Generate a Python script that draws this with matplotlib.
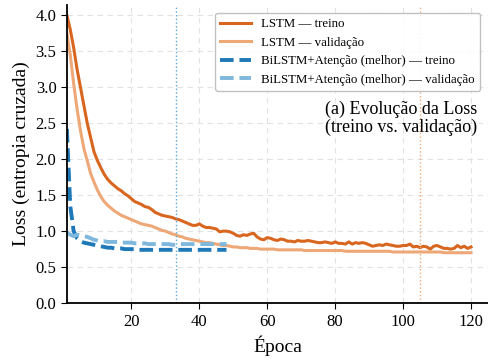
import numpy as np
import matplotlib
matplotlib.use("Agg")
import matplotlib.pyplot as plt

plt.rcParams["font.family"] = ["Liberation Serif", "DejaVu Serif"]

# LSTM (120 epocas)
lstm_train = [4.00, 3.80, 3.55, 3.25, 3.00, 2.75, 2.50, 2.30, 2.10, 1.98,
              1.88, 1.79, 1.72, 1.67, 1.63, 1.59, 1.56, 1.52, 1.49, 1.45,
              1.41, 1.39, 1.37, 1.34, 1.33, 1.30, 1.26, 1.24, 1.22, 1.21,
              1.20, 1.19, 1.17, 1.16, 1.14, 1.12, 1.10, 1.08, 1.08, 1.10,
              1.07, 1.05, 1.05, 1.04, 1.03, 0.99, 1.00, 1.00, 0.99, 0.97,
              0.94, 0.93, 0.95, 0.94, 0.96, 0.97, 0.92, 0.89, 0.88, 0.91,
              0.90, 0.88, 0.87, 0.89, 0.88, 0.86, 0.86, 0.85, 0.87, 0.86,
              0.86, 0.87, 0.86, 0.85, 0.84, 0.84, 0.85, 0.84, 0.83, 0.85,
              0.83, 0.83, 0.82, 0.85, 0.82, 0.84, 0.83, 0.84, 0.83, 0.81,
              0.79, 0.80, 0.81, 0.80, 0.82, 0.81, 0.80, 0.79, 0.79, 0.80,
              0.80, 0.82, 0.78, 0.79, 0.77, 0.79, 0.78, 0.75, 0.79, 0.80,
              0.78, 0.76, 0.76, 0.75, 0.76, 0.80, 0.77, 0.79, 0.76, 0.78]
lstm_val = [3.75, 3.45, 3.05, 2.70, 2.40, 2.15, 1.98, 1.80, 1.68, 1.57,
            1.48, 1.41, 1.36, 1.32, 1.28, 1.25, 1.22, 1.20, 1.18, 1.16,
            1.14, 1.12, 1.10, 1.09, 1.08, 1.07, 1.05, 1.03, 1.01, 1.00,
            0.98, 0.96, 0.95, 0.93, 0.92, 0.90, 0.89, 0.88, 0.87, 0.86,
            0.85, 0.84, 0.84, 0.83, 0.82, 0.81, 0.80, 0.80, 0.79, 0.78,
            0.78, 0.77, 0.77, 0.77, 0.76, 0.76, 0.76, 0.75, 0.75, 0.75,
            0.75, 0.75, 0.74, 0.74, 0.74, 0.74, 0.74, 0.74, 0.74, 0.74,
            0.73, 0.73, 0.73, 0.73, 0.73, 0.73, 0.73, 0.73, 0.73, 0.73,
            0.73, 0.73, 0.72, 0.72, 0.72, 0.72, 0.72, 0.72, 0.72, 0.72,
            0.72, 0.72, 0.72, 0.72, 0.72, 0.72, 0.71, 0.71, 0.71, 0.71,
            0.71, 0.71, 0.71, 0.71, 0.71, 0.71, 0.71, 0.71, 0.71, 0.71,
            0.71, 0.70, 0.70, 0.70, 0.70, 0.70, 0.70, 0.70, 0.70, 0.70]

# BiLSTM+Atencao (48 epocas, early stopping)
bi_train = [2.42, 1.35, 1.00, 0.90, 0.86, 0.84, 0.83, 0.82, 0.81, 0.80,
            0.79, 0.78, 0.77, 0.77, 0.76, 0.76, 0.76, 0.75, 0.75, 0.75,
            0.75, 0.74, 0.74, 0.74, 0.74, 0.74, 0.74, 0.74, 0.74, 0.74,
            0.74, 0.74, 0.74, 0.74, 0.74, 0.74, 0.74, 0.74, 0.74, 0.74,
            0.74, 0.74, 0.74, 0.74, 0.74, 0.74, 0.74, 0.74]
bi_val = [0.98, 0.95, 0.93, 0.95, 0.94, 0.93, 0.92, 0.90, 0.88, 0.87,
          0.86, 0.86, 0.85, 0.85, 0.85, 0.85, 0.84, 0.84, 0.84, 0.84,
          0.83, 0.83, 0.83, 0.83, 0.82, 0.82, 0.82, 0.82, 0.82, 0.82,
          0.82, 0.81, 0.81, 0.82, 0.82, 0.82, 0.82, 0.82, 0.82, 0.82,
          0.82, 0.82, 0.82, 0.82, 0.82, 0.82, 0.82, 0.82]

best_bi = 33
best_lstm = 105

ep_lstm = np.arange(1, len(lstm_train) + 1)
ep_bi = np.arange(1, len(bi_train) + 1)

fig = plt.figure(figsize=(4.88, 3.63), dpi=100)
ax = fig.add_axes([0.137, 0.165, 0.863, 0.821])

ax.plot(ep_lstm, lstm_train, color="#d9661f", lw=2.2, label="LSTM — treino")
ax.plot(ep_lstm, lstm_val, color="#eea877", lw=2.2, label="LSTM — validação")
ax.plot(ep_bi, bi_train, color="#1f78b8", lw=2.8, ls=(0, (3.5, 1.5)),
        label="BiLSTM+Atenção (melhor) — treino")
ax.plot(ep_bi, bi_val, color="#7fb8dc", lw=2.8, ls=(0, (3.5, 1.5)),
        label="BiLSTM+Atenção (melhor) — validação")

ax.axvline(best_bi, color="#5aa5d8", lw=1.0, ls=":")
ax.axvline(best_lstm, color="#f2a875", lw=1.0, ls=":")

ax.set_xlim(1, 125)
ax.set_ylim(0, 4.14)
ax.set_xticks([20, 40, 60, 80, 100, 120])
ax.set_yticks(np.arange(0, 4.01, 0.5))
ax.yaxis.set_major_formatter(matplotlib.ticker.FormatStrFormatter("%.1f"))
ax.tick_params(labelsize=12, direction="out", length=4)
ax.grid(True, ls=(0, (5, 4)), color="#e2e2e2", lw=0.8)
ax.set_axisbelow(True)
for s in ["top", "right"]:
    ax.spines[s].set_visible(False)
ax.spines["left"].set_linewidth(1.3)
ax.spines["bottom"].set_linewidth(1.3)

ax.set_xlabel("Época", fontsize=14)
ax.set_ylabel("Loss (entropia cruzada)", fontsize=14)

ax.legend(loc="upper right", fontsize=9.3, frameon=True, framealpha=0.9,
          edgecolor="#bbbbbb", handlelength=2.4, borderaxespad=0.6,
          labelspacing=0.5)
ax.text(0.975, 0.62, "(a) Evolução da Loss\n(treino vs. validação)",
        transform=ax.transAxes, ha="right", va="center", fontsize=13,
        linespacing=1.1)

fig.savefig("out.png", dpi=100)
